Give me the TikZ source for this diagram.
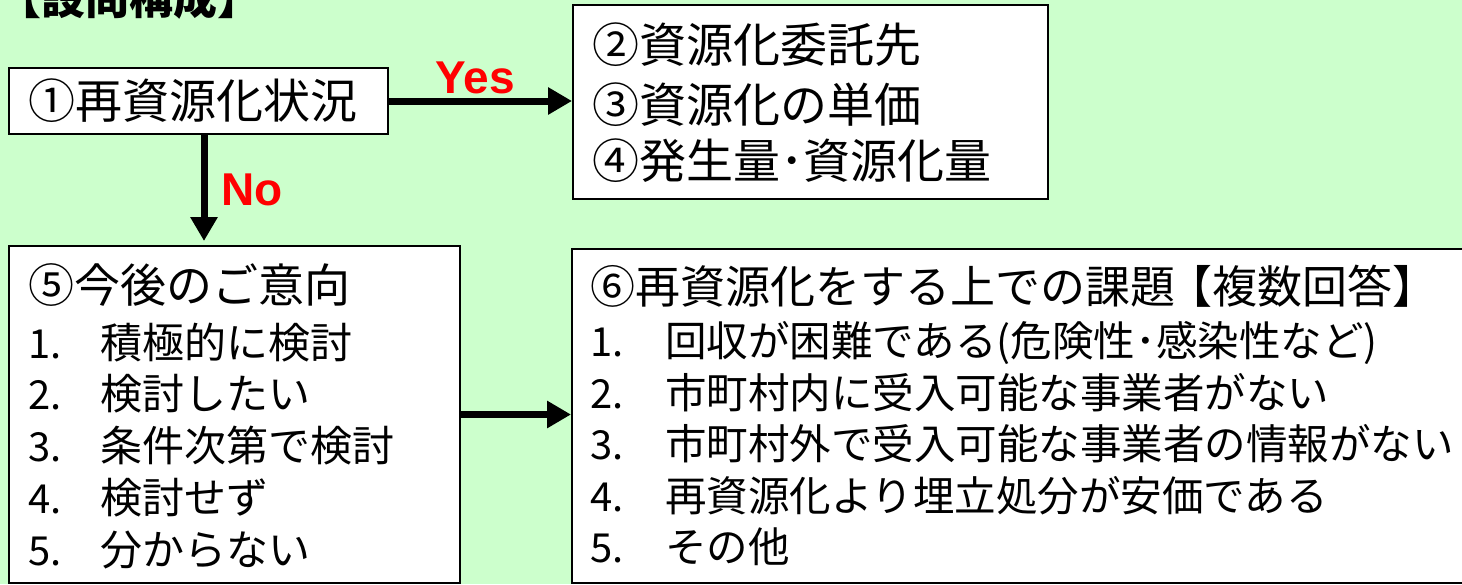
\documentclass[tikz,border=0pt]{standalone}
\usepackage{fontspec}
\setmainfont{Liberation Sans}
\newfontfamily\jp{Noto Sans CJK JP}
\usetikzlibrary{arrows.meta}
\definecolor{bg}{HTML}{CCFFCC}
\definecolor{lblred}{HTML}{FF0000}
\newcommand\itm[3]{\makebox[#1][l]{\fontsize{40}{42}\selectfont #2}#3}
\begin{document}
\begin{tikzpicture}[x=1pt,y=-1pt,
  box/.style={draw=black, line width=2pt, fill=white, inner sep=0, anchor=north west},
  txt/.style={inner sep=0, anchor=base west},
  big/.style={font=\jp\fontsize{47}{50}\selectfont},
  head/.style={font=\jp\fontsize{46}{50}\selectfont},
  headsix/.style={font=\jp\fontsize{45}{50}\selectfont},
  item/.style={font=\jp\fontsize{42}{46}\selectfont},
  itemsix/.style={font=\jp\fontsize{41.5}{46}\selectfont},
  arr/.style={line width=7pt, -{Triangle[length=24pt,width=26pt]}},
  lbl/.style={text=lblred, font=\fontsize{46}{48}\selectfont\bfseries, inner sep=0, anchor=base},
]
\useasboundingbox (0,0) rectangle (1462,584);
\fill[bg] (0,0) rectangle (1462,584);

% title
\node[txt, font=\jp\bfseries\fontsize{44}{46}\selectfont] (title) at (-3,14) {【設問構成】};

% boxes
\node[box, minimum width=379pt, minimum height=66pt] (b1) at (8,67) {};
\node[box, minimum width=475pt, minimum height=194pt] (b2) at (572,4) {};
\node[box, minimum width=451pt, minimum height=337pt] (b5) at (8,245) {};
\node[box, minimum width=900pt, minimum height=334pt] (b6) at (571,248) {};

% box 1
\node[txt, big] (t1) at (28,118) {①再資源化状況};

% box 2
\node[txt, big] (t2) at (592,62) {②資源化委託先};
\node[txt, big] (t3) at (592,122) {③資源化の単価};
\node[txt, big] (t4) at (592,178) {④発生量･資源化量};

% box 5
\node[txt, head] (t5) at (28,302.5) {⑤今後のご意向};
\node[txt, item] (t51) at (28,358) {\itm{72pt}{1.}{積極的に検討}};
\node[txt, item] (t52) at (28,409) {\itm{72pt}{2.}{検討したい}};
\node[txt, item] (t53) at (28,461) {\itm{72pt}{3.}{条件次第で検討}};
\node[txt, item] (t54) at (28,513) {\itm{72pt}{4.}{検討せず}};
\node[txt, item] (t55) at (28,565) {\itm{72pt}{5.}{分からない}};

% box 6
\node[txt, headsix] (t6) at (590,303) {⑥再資源化をする上での課題\hspace{-8pt}【複数回答】};
\node[txt, itemsix] (t61) at (590,356) {\itm{75pt}{1.}{回収が困難である(危険性･感染性など)}};
\node[txt, itemsix] (t62) at (590,408) {\itm{75pt}{2.}{市町村内に受入可能な事業者がない}};
\node[txt, itemsix] (t63) at (590,459) {\itm{75pt}{3.}{市町村外で受入可能な事業者の情報がない}};
\node[txt, itemsix] (t64) at (590,511) {\itm{75pt}{4.}{再資源化より埋立処分が安価である}};
\node[txt, itemsix] (t65) at (590,562) {\itm{75pt}{5.}{その他}};

% connectors
\draw[arr] (b1.east) -- (b1.east -| b2.west);
\coordinate (nofrom) at ([xshift=5.5pt]b1.south);
\draw[arr, shorten >=4pt] (nofrom) -- (nofrom |- b5.north);
\draw[arr] (b5.east) -- (b5.east -| b6.west);

% labels
\node[lbl] (yes) at (475,93) {Yes};
\node[lbl] (no) at (252,205) {No};
\end{tikzpicture}
\end{document}
